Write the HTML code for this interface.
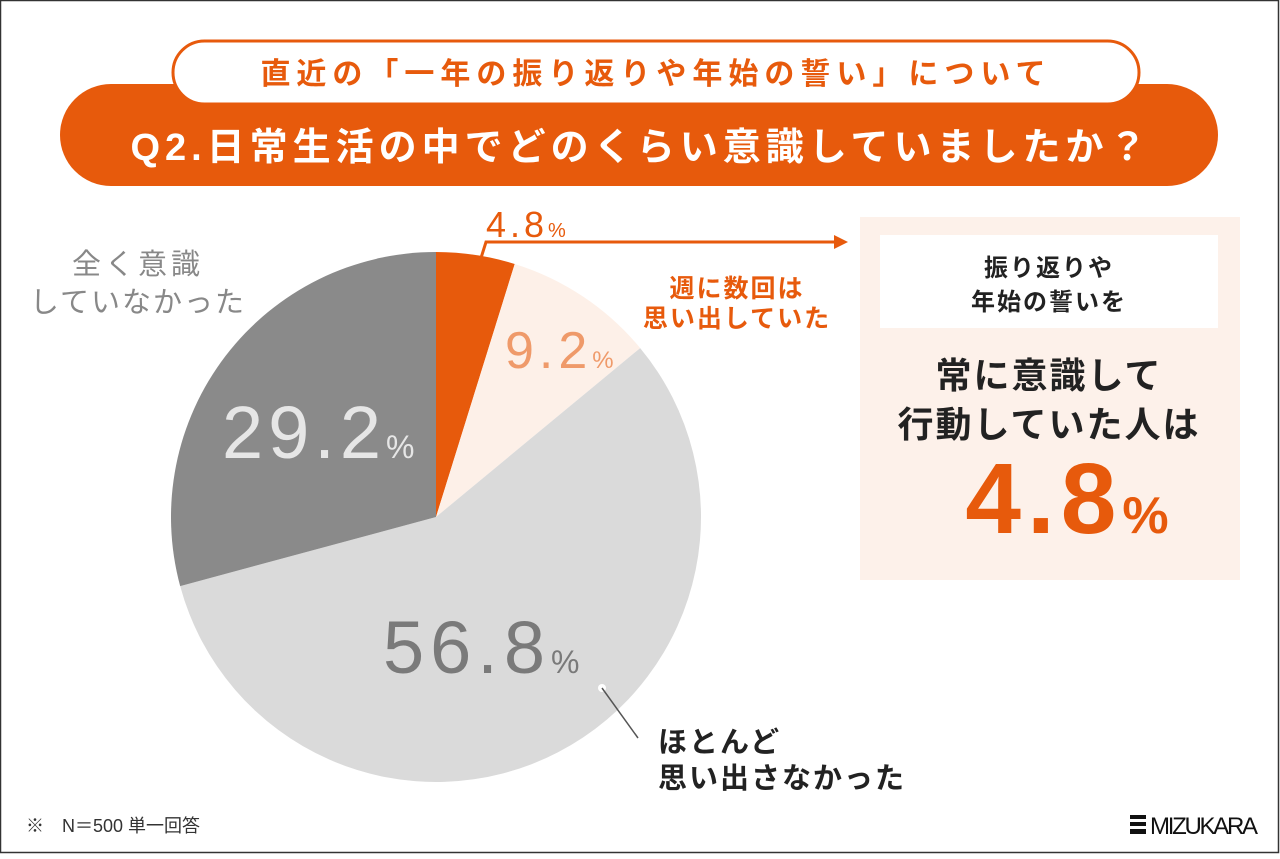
<!DOCTYPE html>
<html><head><meta charset="utf-8"><style>
body{margin:0;width:1280px;height:854px;overflow:hidden;background:#fff;font-family:"Liberation Sans","Noto Sans CJK JP",sans-serif}
</style></head><body>
<svg width="1280" height="854" viewBox="0 0 1280 854" style="font-family:'Liberation Sans','Noto Sans CJK JP',sans-serif;font-weight:bold">
<rect x="0.5" y="0.5" width="1278" height="852" fill="#fff" stroke="#333" stroke-width="1.5"/>
<rect x="60" y="84" width="1158" height="102" rx="51" fill="#e75a0c"/>
<rect x="173" y="41" width="966" height="63" rx="31.5" fill="#fff" stroke="#e75a0c" stroke-width="3"/>
<text x="656" y="84" text-anchor="middle" font-size="30" fill="#e75a0c" letter-spacing="6">直近の「一年の振り返りや年始の誓い」について</text>
<text x="641" y="160" text-anchor="middle" font-size="38" fill="#fff" letter-spacing="5">Q2.日常生活の中でどのくらい意識していましたか？</text>
<g id="pie"></g>
<polyline points="481,258 486,242 836,242" fill="none" stroke="#e75a0c" stroke-width="3"/>
<polygon points="848,242 834,235 834,249" fill="#e75a0c"/>
<text x="486" y="237" font-size="36" fill="#e75a0c" font-weight="normal" letter-spacing="4">4.8<tspan font-size="20">%</tspan></text>
<text x="737" y="297" text-anchor="middle" font-size="25" fill="#e75a0c" letter-spacing="2">週に数回は</text>
<text x="737" y="327" text-anchor="middle" font-size="25" fill="#e75a0c" letter-spacing="2">思い出していた</text>
<text x="505" y="368" font-size="52" fill="#ef9a6a" font-weight="normal" letter-spacing="5">9.2<tspan font-size="24">%</tspan></text>
<text x="222" y="458" font-size="74" fill="#e6e6e6" font-weight="normal" letter-spacing="5">29.2<tspan font-size="32">%</tspan></text>
<text x="383" y="673" font-size="74" fill="#7a7a7a" font-weight="normal" letter-spacing="6">56.8<tspan font-size="32">%</tspan></text>
<text x="138" y="274" text-anchor="middle" font-size="29" fill="#888" font-weight="normal" letter-spacing="4">全く意識</text>
<text x="138" y="312" text-anchor="middle" font-size="29" fill="#888" font-weight="normal" letter-spacing="2">していなかった</text>
<circle cx="602" cy="688" r="4" fill="#fff"/>
<line x1="602" y1="688" x2="638" y2="738" stroke="#555" stroke-width="1.5"/>
<text x="658" y="752" font-size="29" fill="#222" letter-spacing="2">ほとんど</text>
<text x="658" y="788" font-size="29" fill="#222" letter-spacing="2">思い出さなかった</text>
<rect x="860" y="217" width="380" height="363" fill="#fdf1ea"/>
<rect x="880" y="235" width="338" height="93" fill="#fff"/>
<text x="1049" y="276" text-anchor="middle" font-size="24" fill="#222" letter-spacing="2">振り返りや</text>
<text x="1049" y="310" text-anchor="middle" font-size="24" fill="#222" letter-spacing="2">年始の誓いを</text>
<text x="1049" y="388" text-anchor="middle" font-size="36" fill="#222" letter-spacing="2">常に意識して</text>
<text x="1049" y="437" text-anchor="middle" font-size="36" fill="#222" letter-spacing="2">行動していた人は</text>
<text x="1070" y="533" text-anchor="middle" font-size="100" fill="#e75a0c" letter-spacing="6">4.8<tspan font-size="52">%</tspan></text>
<text x="26" y="832" font-size="18" fill="#333" font-weight="normal">※　N＝500 単一回答</text>
<g>
<rect x="1130" y="815" width="16" height="4" fill="#111"/><rect x="1130" y="822" width="16" height="4" fill="#111"/><rect x="1130" y="829" width="16" height="5" fill="#111"/>
<text x="1150" y="834" font-size="24" fill="#111" font-weight="normal" textLength="108">MIZUKARA</text>
</g>
</svg>
<script>
const categories=["常に意識していた","週に数回は思い出していた","ほとんど思い出さなかった","全く意識していなかった"];
const values=[4.8,9.2,56.8,29.2];
const colors=["#e75a0c","#fdf0e8","#dadada","#8a8a8a"];
const cx=436,cy=517,r=265;
const g=document.getElementById('pie');
const total=values.reduce((a,b)=>a+b,0);
let a0=0;
values.forEach((v,i)=>{
  const a1=a0+v/total*2*Math.PI;
  const x0=cx+r*Math.sin(a0),y0=cy-r*Math.cos(a0),x1=cx+r*Math.sin(a1),y1=cy-r*Math.cos(a1);
  const p=document.createElementNS('http://www.w3.org/2000/svg','path');
  p.setAttribute('d',`M${cx},${cy}L${x0},${y0}A${r},${r} 0 ${a1-a0>Math.PI?1:0} 1 ${x1},${y1}Z`);
  p.setAttribute('fill',colors[i]);
  
  
  g.appendChild(p);
  a0=a1;
});
</script>
</body></html>
